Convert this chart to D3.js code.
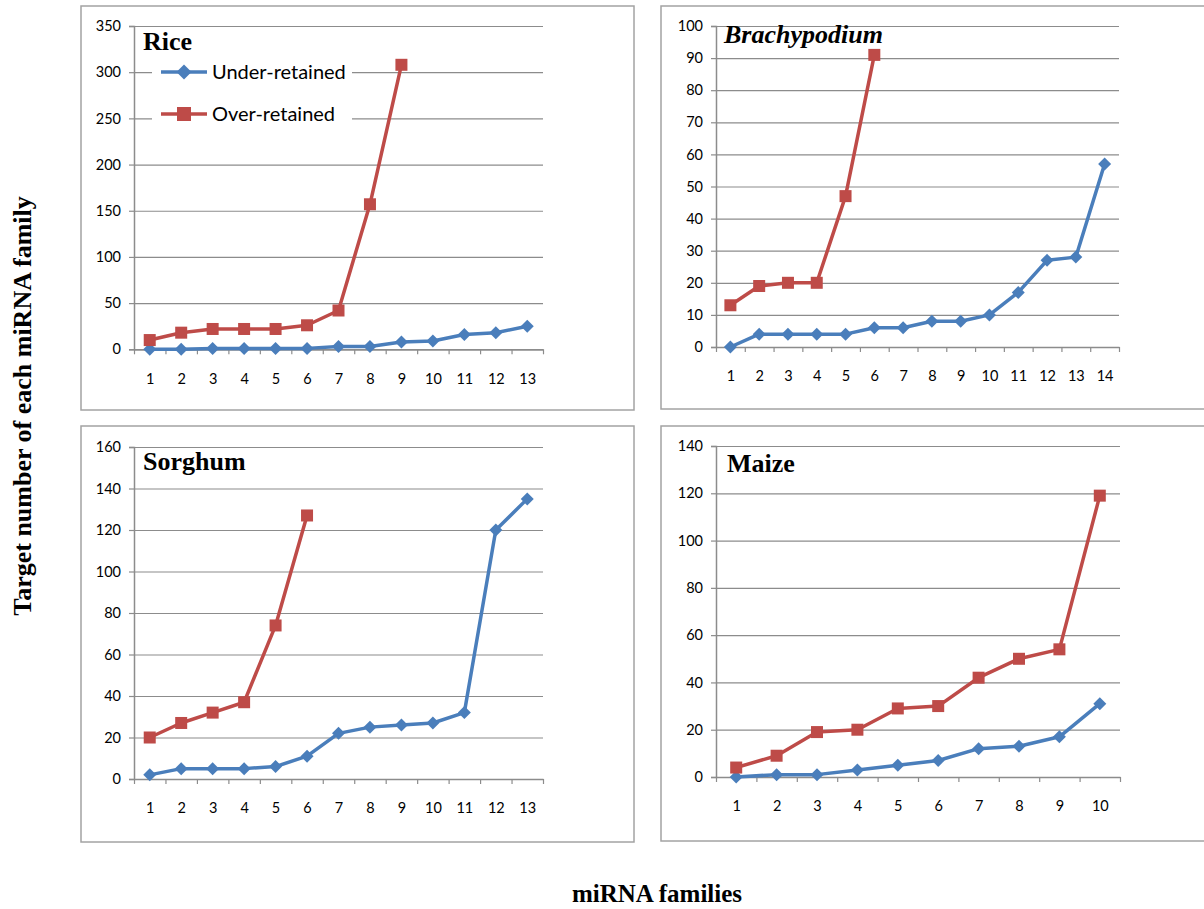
<!DOCTYPE html>
<html>
<head>
<meta charset="utf-8">
<script src="https://cdn.jsdelivr.net/npm/d3@7"></script>
<style>
  html, body { margin: 0; padding: 0; background: #fff; }
  svg { display: block; }
</style>
</head>
<body>
<svg id="chart" width="1204" height="909"></svg>
<script>
// ---------------- DATA ----------------
const riceFamilies = [1,2,3,4,5,6,7,8,9,10,11,12,13];
const riceUnder = [0,0,1,1,1,1,3,3,8,9,16,18,25];
const riceOver  = [10,18,22,22,22,26,42,157,308];
const riceTicks = [0,50,100,150,200,250,300,350];

const brachyFamilies = [1,2,3,4,5,6,7,8,9,10,11,12,13,14];
const brachyUnder = [0,4,4,4,4,6,6,8,8,10,17,27,28,57];
const brachyOver  = [13,19,20,20,47,91];
const brachyTicks = [0,10,20,30,40,50,60,70,80,90,100];

const sorghumFamilies = [1,2,3,4,5,6,7,8,9,10,11,12,13];
const sorghumUnder = [2,5,5,5,6,11,22,25,26,27,32,120,135];
const sorghumOver  = [20,27,32,37,74,127];
const sorghumTicks = [0,20,40,60,80,100,120,140,160];

const maizeFamilies = [1,2,3,4,5,6,7,8,9,10];
const maizeUnder = [0,1,1,3,5,7,12,13,17,31];
const maizeOver  = [4,9,19,20,29,30,42,50,54,119];
const maizeTicks = [0,20,40,60,80,100,120,140];

const seriesNames = ["Under-retained", "Over-retained"];
const yTitle = "Target number of each miRNA family";
const xTitle = "miRNA families";

// ---------------- STYLE / LAYOUT ----------------
const BLUE = "#4A7EBB", RED = "#BE4B48", GRID = "#8c8c8c", FRAME = "#a3a3a3";
const panels = [
  { title: "Rice", italic: false, cats: riceFamilies, under: riceUnder, over: riceOver, ticks: riceTicks,
    frame: [81, 6, 553, 404], plot: [134, 26, 543, 349.3], titlePos: [143, 50], legend: true },
  { title: "Brachypodium", italic: true, cats: brachyFamilies, under: brachyUnder, over: brachyOver, ticks: brachyTicks,
    frame: [661, 6, 553, 403], plot: [716, 26, 1119, 347], titlePos: [724, 43], legend: false },
  { title: "Sorghum", italic: false, cats: sorghumFamilies, under: sorghumUnder, over: sorghumOver, ticks: sorghumTicks,
    frame: [81, 426, 553, 416], plot: [134, 447, 543, 779], titlePos: [143, 470], legend: false },
  { title: "Maize", italic: false, cats: maizeFamilies, under: maizeUnder, over: maizeOver, ticks: maizeTicks,
    frame: [661, 426, 553, 415], plot: [716, 446, 1120, 777], titlePos: [727, 472], legend: false }
];

const svg = d3.select("#chart");

function diamondPath(cx, cy, r) {
  return `M${cx},${cy - r}L${cx + r},${cy}L${cx},${cy + r}L${cx - r},${cy}Z`;
}

panels.forEach(p => {
  const [fx, fy, fw, fh] = p.frame;
  const [l, t, r, b] = p.plot;
  const g = svg.append("g");

  g.append("rect").attr("x", fx).attr("y", fy).attr("width", fw).attr("height", fh)
    .attr("fill", "#fff").attr("stroke", FRAME).attr("stroke-width", 1.5);

  const n = p.cats.length;
  const x = d3.scaleLinear().domain([0.5, n + 0.5]).range([l, r]);
  const y = d3.scaleLinear().domain([0, d3.max(p.ticks)]).range([b, t]);

  // gridlines
  g.append("g").attr("transform", `translate(${l},0)`)
    .call(d3.axisLeft(y).tickValues(p.ticks).tickSize(-(r - l)).tickFormat(""))
    .call(s => s.select(".domain").remove())
    .call(s => s.selectAll("line").attr("stroke", GRID).attr("stroke-width", 1.2));

  // y axis with ticks/labels
  g.append("g").attr("transform", `translate(${l},0)`)
    .call(d3.axisLeft(y).tickValues(p.ticks).tickSize(5).tickPadding(8))
    .call(s => s.select(".domain").attr("stroke", GRID).attr("stroke-width", 1.5))
    .call(s => s.selectAll("line").attr("stroke", GRID).attr("stroke-width", 1.2))
    .call(s => s.selectAll("text").attr("fill", "#000").style("font-family", "Lato, sans-serif").style("font-size", "14.5px"));

  // x axis boundary ticks
  const bounds = d3.range(n + 1).map(i => i + 0.5);
  g.append("g").attr("transform", `translate(0,${b})`)
    .call(d3.axisBottom(x).tickValues(bounds).tickSize(5).tickSizeOuter(0).tickFormat(""))
    .call(s => s.select(".domain").attr("stroke", GRID).attr("stroke-width", 1.5))
    .call(s => s.selectAll("line").attr("stroke", GRID).attr("stroke-width", 1.2));

  // x labels
  g.append("g").attr("transform", `translate(0,${b})`)
    .call(d3.axisBottom(x).tickValues(p.cats).tickSize(0).tickPadding(24))
    .call(s => s.select(".domain").remove())
    .call(s => s.selectAll("text").attr("fill", "#000").style("font-family", "Lato, sans-serif").style("font-size", "14.5px"));

  // title
  g.append("text").attr("x", p.titlePos[0]).attr("y", p.titlePos[1])
    .text(p.title)
    .style("font-family", "'Liberation Serif', 'Times New Roman', serif")
    .style("font-weight", "bold")
    .style("font-style", p.italic ? "italic" : "normal")
    .style("font-size", "26px");

  const line = d3.line().x((d, i) => x(i + 1)).y(d => y(d));

  // Under-retained
  g.append("path").datum(p.under).attr("d", line).attr("fill", "none")
    .attr("stroke", BLUE).attr("stroke-width", 3.5).attr("stroke-linejoin", "round");
  g.selectAll(".dia").data(p.under).enter().append("path")
    .attr("d", (d, i) => diamondPath(x(i + 1), y(d), 6.5)).attr("fill", BLUE);

  // Over-retained
  g.append("path").datum(p.over).attr("d", line).attr("fill", "none")
    .attr("stroke", RED).attr("stroke-width", 3.5).attr("stroke-linejoin", "round");
  g.selectAll(".sq").data(p.over).enter().append("rect")
    .attr("x", (d, i) => x(i + 1) - 6).attr("y", d => y(d) - 6)
    .attr("width", 12).attr("height", 12).attr("fill", RED);

  if (p.legend) {
    const lg = g.append("g");
    lg.append("rect").attr("x", 152).attr("y", 52).attr("width", 200).attr("height", 82).attr("fill", "#fff");
    const items = [{ name: seriesNames[0], color: BLUE, yy: 72, shape: "d" },
                   { name: seriesNames[1], color: RED, yy: 114, shape: "s" }];
    items.forEach(it => {
      lg.append("line").attr("x1", 161).attr("x2", 207).attr("y1", it.yy).attr("y2", it.yy)
        .attr("stroke", it.color).attr("stroke-width", 3.5);
      if (it.shape === "d") lg.append("path").attr("d", diamondPath(184, it.yy, 7.5)).attr("fill", it.color);
      else lg.append("rect").attr("x", 184 - 7).attr("y", it.yy - 7).attr("width", 14).attr("height", 14).attr("fill", it.color);
      lg.append("text").attr("x", 212).attr("y", it.yy).attr("dy", "0.36em").text(it.name)
        .style("font-family", "Lato, sans-serif").style("font-size", "20px").attr("fill", "#000");
    });
  }
});

// axis titles
svg.append("text").attr("transform", "translate(31,406) rotate(-90)")
  .attr("text-anchor", "middle").text(yTitle)
  .style("font-family", "'Liberation Serif', 'Times New Roman', serif")
  .style("font-weight", "bold").style("font-size", "26px");

svg.append("text").attr("x", 657).attr("y", 902)
  .attr("text-anchor", "middle").text(xTitle)
  .style("font-family", "'Liberation Serif', 'Times New Roman', serif")
  .style("font-weight", "bold").style("font-size", "25px");
</script>
</body>
</html>
